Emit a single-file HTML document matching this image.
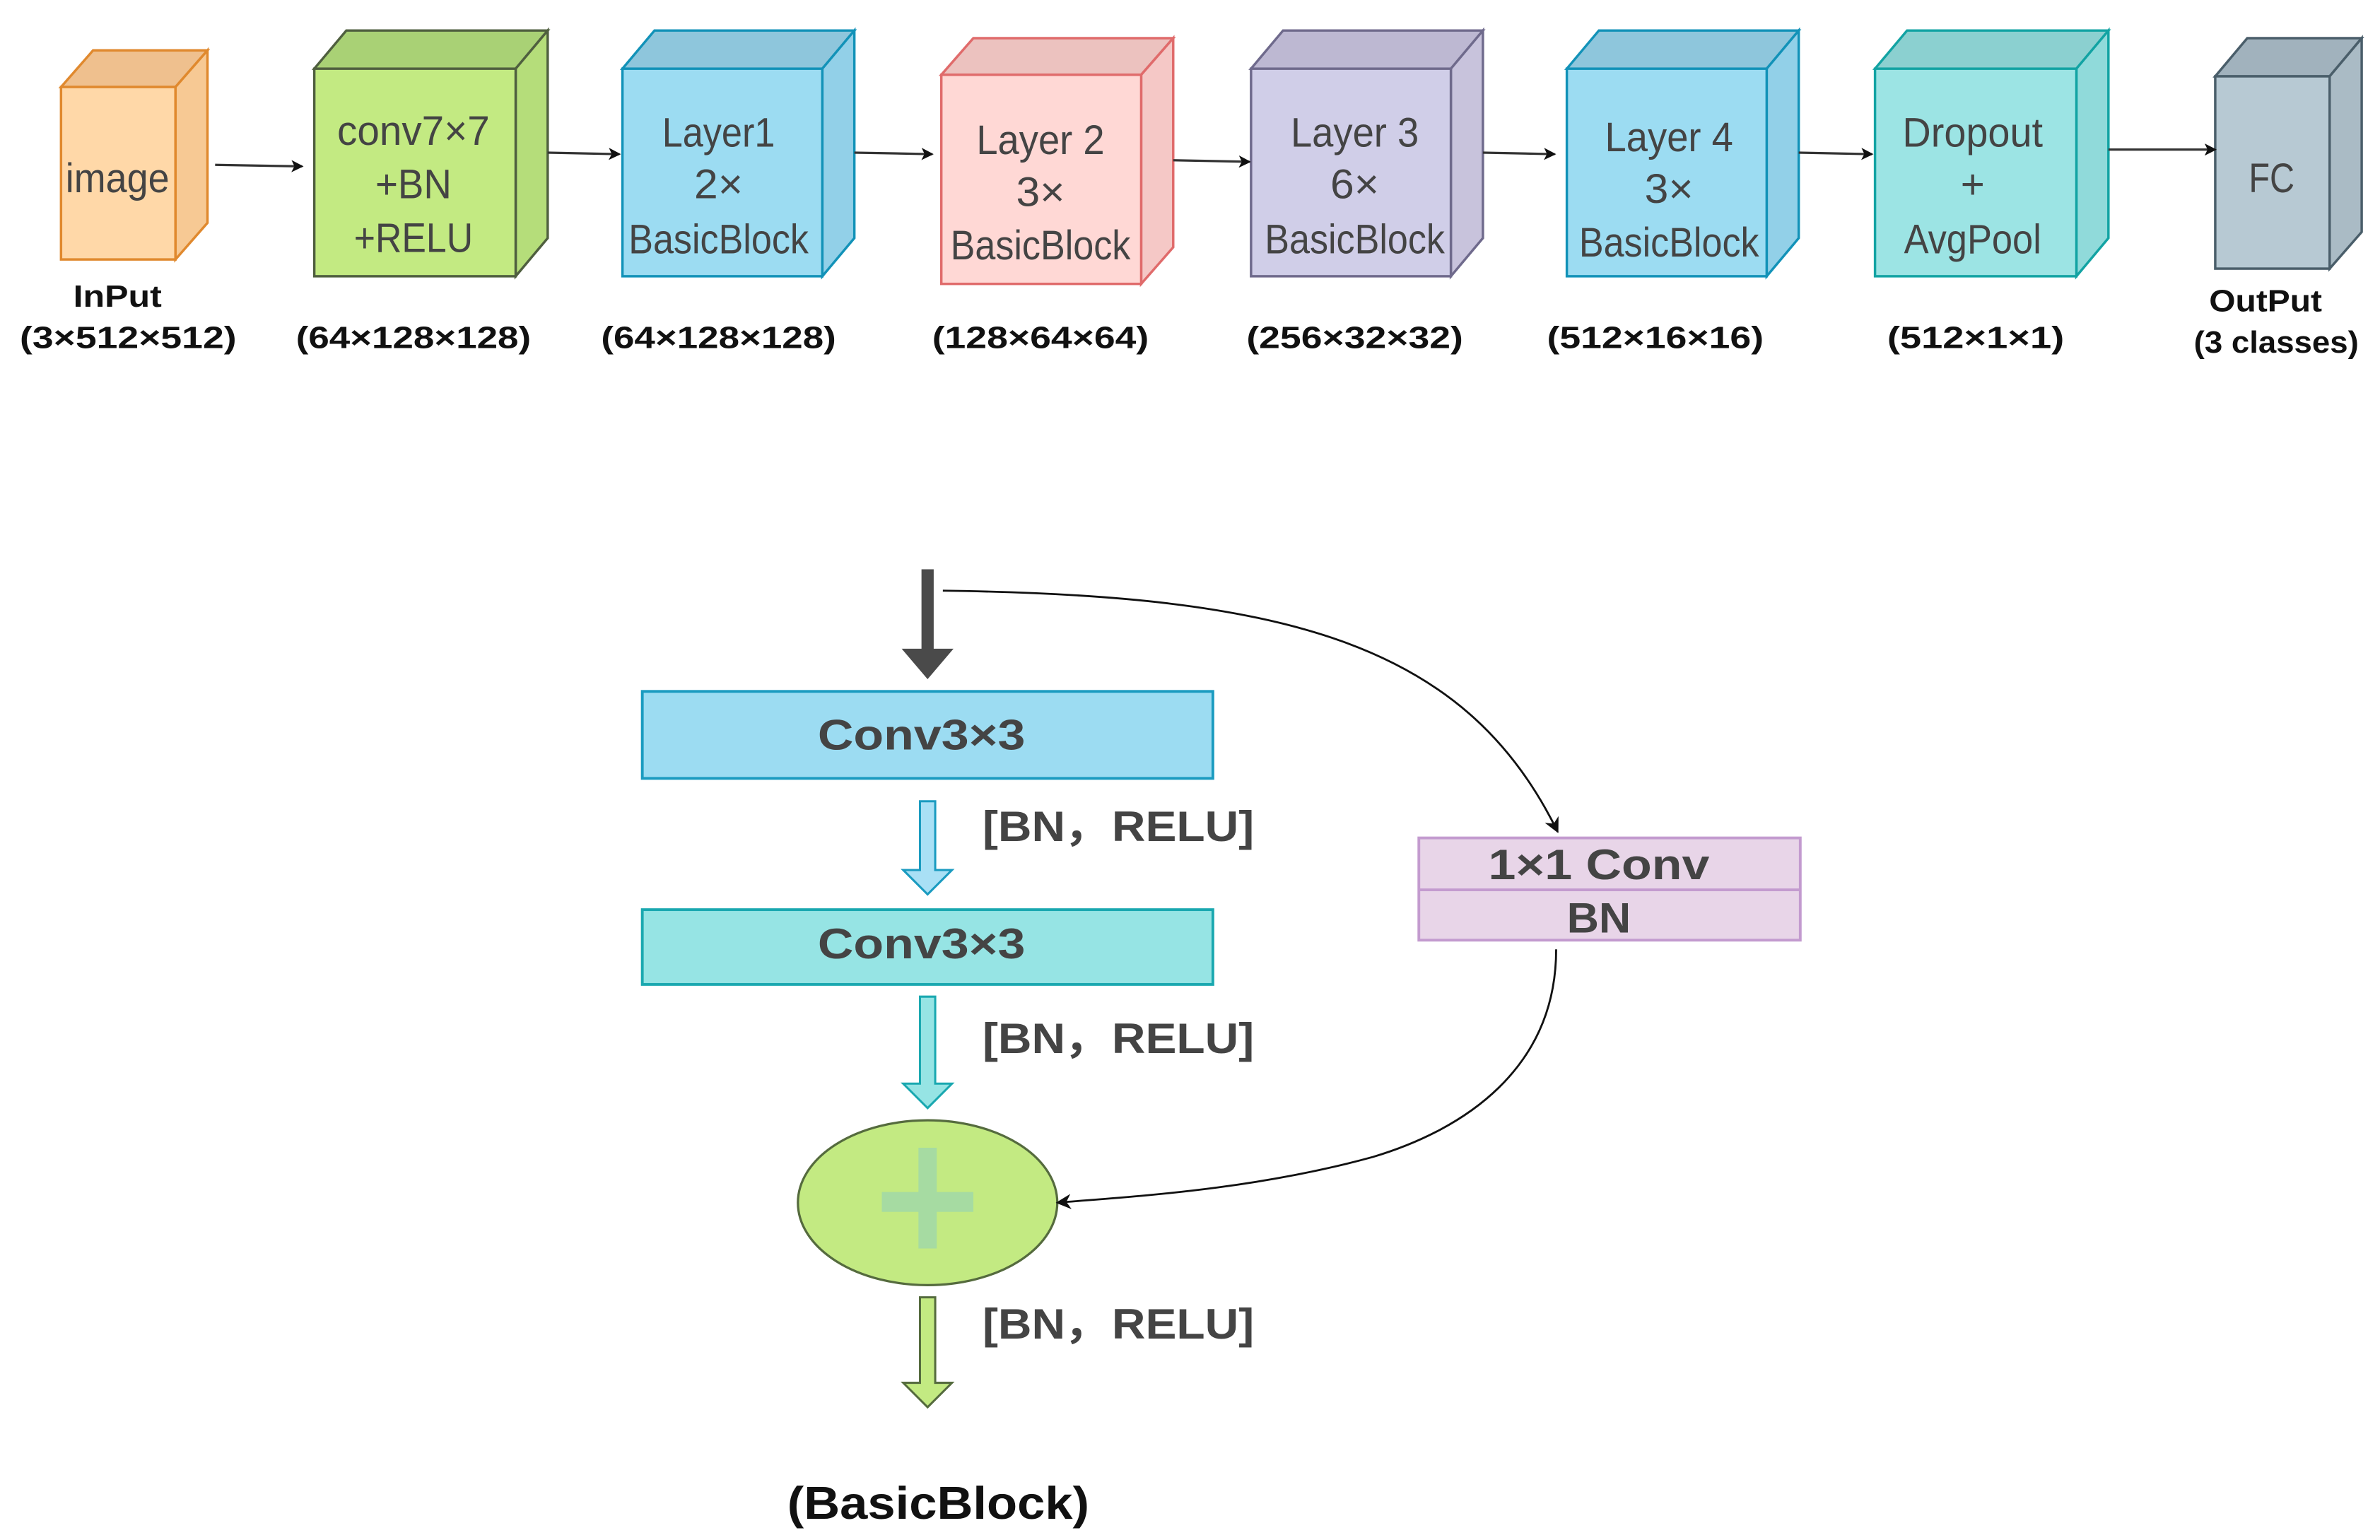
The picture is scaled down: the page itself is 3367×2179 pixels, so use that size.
<!DOCTYPE html>
<html><head><meta charset="utf-8"><style>html,body{margin:0;padding:0;background:#fff}svg{display:block}</style></head>
<body>
<svg width="3367" height="2179" viewBox="0 0 1560 1009" preserveAspectRatio="none" xmlns="http://www.w3.org/2000/svg" font-family="'Liberation Sans', 'DejaVu Sans', sans-serif">
<defs>
<marker id="a" markerWidth="8" markerHeight="8" refX="7" refY="4" orient="auto" markerUnits="userSpaceOnUse"><path d="M0,0 L8,4 L0,8 L2,4 Z" fill="#111"/></marker>
<marker id="b" markerWidth="10" markerHeight="10" refX="9" refY="5" orient="auto" markerUnits="userSpaceOnUse"><path d="M0,0 L10,5 L0,10 L3,5 Z" fill="#111"/></marker>
</defs>
<g stroke-width="1.6">
<!-- image -->
<polygon points="40,57 61,33 136,33 115,57" fill="#efc08e" stroke="#e0892e"/>
<polygon points="115,57 136,33 136,146 115,170" fill="#f7c994" stroke="#e0892e"/>
<rect x="40" y="57" width="75" height="113" fill="#ffd8a8" stroke="#e0892e"/>
<!-- conv -->
<polygon points="206,45 227,20 359,20 338,45" fill="#a9d175" stroke="#4f5f3f"/>
<polygon points="338,45 359,20 359,156 338,181" fill="#b5dd7a" stroke="#4f5f3f"/>
<rect x="206" y="45" width="132" height="136" fill="#c3ea82" stroke="#4f5f3f"/>
<!-- L1 -->
<polygon points="408,45 429,20 560,20 539,45" fill="#8ec6dc" stroke="#1292b8"/>
<polygon points="539,45 560,20 560,156 539,181" fill="#92d0e8" stroke="#1292b8"/>
<rect x="408" y="45" width="131" height="136" fill="#9cdcf2" stroke="#1292b8"/>
<!-- L2 -->
<polygon points="617,49 638,25 769,25 748,49" fill="#ecc2bf" stroke="#e06b6b"/>
<polygon points="748,49 769,25 769,162 748,186" fill="#f5c8c6" stroke="#e06b6b"/>
<rect x="617" y="49" width="131" height="137" fill="#ffd8d5" stroke="#e06b6b"/>
<!-- L3 -->
<polygon points="820,45 841,20 972,20 951,45" fill="#bdb8d2" stroke="#6f6a8c"/>
<polygon points="951,45 972,20 972,156 951,181" fill="#c8c3dc" stroke="#6f6a8c"/>
<rect x="820" y="45" width="131" height="136" fill="#d0cee8" stroke="#6f6a8c"/>
<!-- L4 -->
<polygon points="1027,45 1048,20 1179,20 1158,45" fill="#8ec6dc" stroke="#1292b8"/>
<polygon points="1158,45 1179,20 1179,156 1158,181" fill="#92d0e8" stroke="#1292b8"/>
<rect x="1027" y="45" width="131" height="136" fill="#9cdcf2" stroke="#1292b8"/>
<!-- Dropout -->
<polygon points="1229,45 1250,20 1382,20 1361,45" fill="#8bd0d0" stroke="#12a3a3"/>
<polygon points="1361,45 1382,20 1382,156 1361,181" fill="#90dada" stroke="#12a3a3"/>
<rect x="1229" y="45" width="132" height="136" fill="#9ce4e4" stroke="#12a3a3"/>
<!-- FC -->
<polygon points="1452,50 1473,25 1548,25 1527,50" fill="#a1b2bd" stroke="#4a5e6a"/>
<polygon points="1527,50 1548,25 1548,152 1527,176" fill="#aabbc5" stroke="#4a5e6a"/>
<rect x="1452" y="50" width="75" height="126" fill="#b7c9d3" stroke="#4a5e6a"/>
</g>
<!-- arrows top -->
<g stroke="#333" stroke-width="1.5" marker-end="url(#a)">
<line x1="141" y1="108" x2="198" y2="109"/>
<line x1="359" y1="100" x2="406" y2="101"/>
<line x1="560" y1="100" x2="611" y2="101"/>
<line x1="769" y1="105" x2="819" y2="106"/>
<line x1="972" y1="100" x2="1019" y2="101"/>
<line x1="1179" y1="100" x2="1227" y2="101"/>
<line x1="1382" y1="98" x2="1452" y2="98"/>
</g>
<g fill="#444" font-size="27" text-anchor="middle" lengthAdjust="spacingAndGlyphs">
<text x="77" y="126" textLength="68" lengthAdjust="spacingAndGlyphs">image</text>
<text x="271" y="95" textLength="100" lengthAdjust="spacingAndGlyphs">conv7×7</text>
<text x="271" y="130" textLength="50" lengthAdjust="spacingAndGlyphs">+BN</text>
<text x="271" y="165" textLength="78" lengthAdjust="spacingAndGlyphs">+RELU</text>
<text x="471" y="96" textLength="74" lengthAdjust="spacingAndGlyphs">Layer1</text>
<text x="471" y="130" textLength="32" lengthAdjust="spacingAndGlyphs">2×</text>
<text x="471" y="166" textLength="118" lengthAdjust="spacingAndGlyphs">BasicBlock</text>
<text x="682" y="101" textLength="84" lengthAdjust="spacingAndGlyphs">Layer 2</text>
<text x="682" y="135" textLength="32" lengthAdjust="spacingAndGlyphs">3×</text>
<text x="682" y="170" textLength="118" lengthAdjust="spacingAndGlyphs">BasicBlock</text>
<text x="888" y="96" textLength="84" lengthAdjust="spacingAndGlyphs">Layer 3</text>
<text x="888" y="130" textLength="32" lengthAdjust="spacingAndGlyphs">6×</text>
<text x="888" y="166" textLength="118" lengthAdjust="spacingAndGlyphs">BasicBlock</text>
<text x="1094" y="99" textLength="84" lengthAdjust="spacingAndGlyphs">Layer 4</text>
<text x="1094" y="133" textLength="32" lengthAdjust="spacingAndGlyphs">3×</text>
<text x="1094" y="168" textLength="118" lengthAdjust="spacingAndGlyphs">BasicBlock</text>
<text x="1293" y="96" textLength="92" lengthAdjust="spacingAndGlyphs">Dropout</text>
<text x="1293" y="130">+</text>
<text x="1293" y="166" textLength="90" lengthAdjust="spacingAndGlyphs">AvgPool</text>
<text x="1489" y="126" textLength="30" lengthAdjust="spacingAndGlyphs">FC</text>
</g>
<g fill="#111" font-size="20" font-weight="bold" text-anchor="middle">
<text x="77" y="201" textLength="58" lengthAdjust="spacingAndGlyphs">InPut</text>
<text x="84" y="228" textLength="142" lengthAdjust="spacingAndGlyphs">(3×512×512)</text>
<text x="271" y="228" textLength="154" lengthAdjust="spacingAndGlyphs">(64×128×128)</text>
<text x="471" y="228" textLength="154" lengthAdjust="spacingAndGlyphs">(64×128×128)</text>
<text x="682" y="228" textLength="142" lengthAdjust="spacingAndGlyphs">(128×64×64)</text>
<text x="888" y="228" textLength="142" lengthAdjust="spacingAndGlyphs">(256×32×32)</text>
<text x="1085" y="228" textLength="142" lengthAdjust="spacingAndGlyphs">(512×16×16)</text>
<text x="1295" y="228" textLength="116" lengthAdjust="spacingAndGlyphs">(512×1×1)</text>
<text x="1485" y="204" textLength="74" lengthAdjust="spacingAndGlyphs">OutPut</text>
<text x="1492" y="231" textLength="108" lengthAdjust="spacingAndGlyphs">(3 classes)</text>
</g>
<!-- bottom -->
<path d="M604,373 L612,373 L612,425 L625,425 L608,445 L591,425 L604,425 Z" fill="#4a4a4a"/>
<rect x="421" y="453" width="374" height="57" fill="#9cdcf2" stroke="#1a9bc0" stroke-width="1.8"/>
<rect x="421" y="596" width="374" height="49" fill="#96e4e4" stroke="#1aa8b0" stroke-width="1.8"/>
<path d="M603,525 L613,525 L613,570 L624,570 L608,586 L592,570 L603,570 Z" fill="#a9e0f5" stroke="#1a9bc0" stroke-width="1.4"/>
<path d="M603,653 L613,653 L613,710 L624,710 L608,726 L592,710 L603,710 Z" fill="#96e4e4" stroke="#1aa8b0" stroke-width="1.4"/>
<path d="M603,850 L613,850 L613,906 L624,906 L608,922 L592,906 L603,906 Z" fill="#c3ea82" stroke="#556b3e" stroke-width="1.4"/>
<ellipse cx="608" cy="788" rx="85" ry="54" fill="#c3ea82" stroke="#556b3e" stroke-width="1.5"/>
<rect x="578" y="781" width="60" height="13" fill="#a6dba2"/>
<rect x="602" y="752" width="12" height="66" fill="#a6dba2"/>
<rect x="930" y="549" width="250" height="67" fill="#e8d5e8" stroke="#c39bcf" stroke-width="1.8"/>
<line x1="930" y1="583" x2="1180" y2="583" stroke="#c39bcf" stroke-width="1.8"/>
<path d="M618,387 C840,390 960,420 1021,545" fill="none" stroke="#111" stroke-width="1.3" marker-end="url(#b)"/>
<path d="M1020,622 C1020,700 960,740 900,758 C820,780 740,784 693,788" fill="none" stroke="#111" stroke-width="1.3" marker-end="url(#b)"/>
<g fill="#444" font-weight="bold" font-size="28" text-anchor="middle">
<text x="604" y="491" textLength="136" lengthAdjust="spacingAndGlyphs">Conv3×3</text>
<text x="604" y="628" textLength="136" lengthAdjust="spacingAndGlyphs">Conv3×3</text>
<text x="1048" y="576" textLength="145" lengthAdjust="spacingAndGlyphs">1×1 Conv</text>
<text x="1048" y="611" textLength="42" lengthAdjust="spacingAndGlyphs">BN</text>
</g>
<g fill="#444" font-weight="bold" font-size="28">
<text x="644" y="551" textLength="178" lengthAdjust="spacingAndGlyphs">[BN，RELU]</text>
<text x="644" y="690" textLength="178" lengthAdjust="spacingAndGlyphs">[BN，RELU]</text>
<text x="644" y="877" textLength="178" lengthAdjust="spacingAndGlyphs">[BN，RELU]</text>
</g>
<text x="615" y="995" text-anchor="middle" font-weight="bold" font-size="30" fill="#111" textLength="198" lengthAdjust="spacingAndGlyphs">(BasicBlock)</text>
</svg>
</body></html>
